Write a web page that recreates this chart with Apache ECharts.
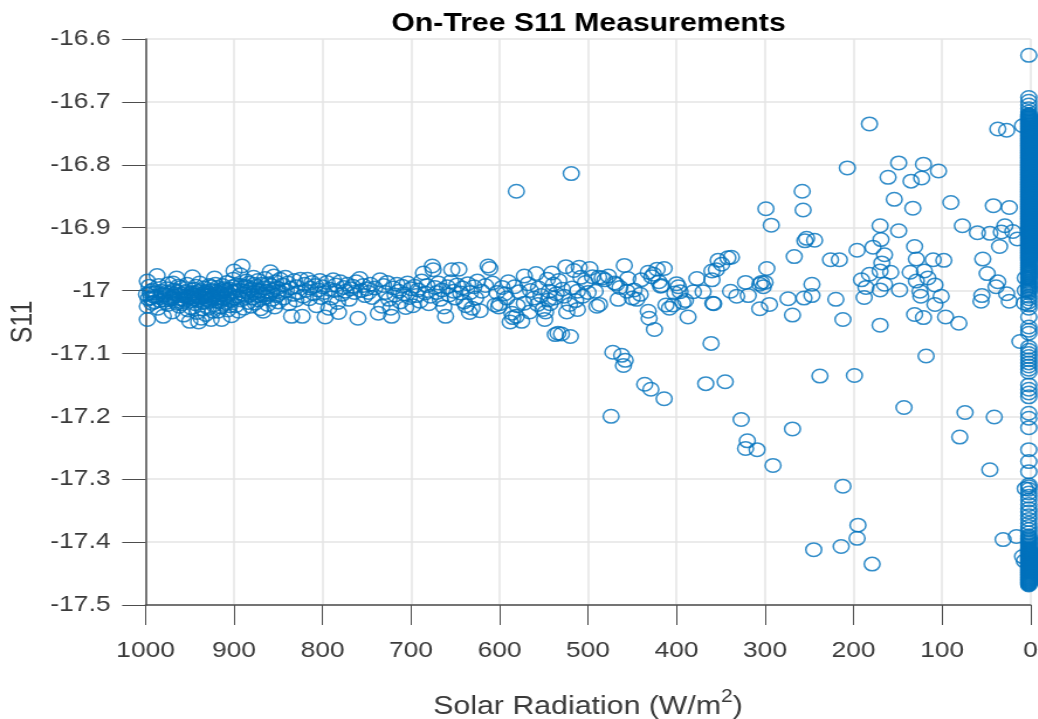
<!DOCTYPE html>
<html>
<head>
<meta charset="utf-8">
<title>On-Tree S11 Measurements</title>
<script src="https://cdn.jsdelivr.net/npm/echarts@6/dist/echarts.min.js"></script>
<style>
  html, body { margin: 0; padding: 0; width: 1038px; height: 719px; background: #fff; overflow: hidden; }
  #frame { position: absolute; left: 0; top: 0; width: 1038px; height: 719px; overflow: hidden; }
  /* the source figure was widened after export, so text and rings are wider than tall */
  #chart { position: absolute; left: 0; top: 0; width: 887px; height: 719px; transform: scaleX(1.17); transform-origin: left top; }
</style>
</head>
<body>
<div id="frame"><div id="chart"></div></div>
<script>
const MAIN_TITLE = 'On-Tree S11 Measurements';
const X_NAME = 'Solar Radiation (W/m{sup|2})';
const Y_NAME = 'S11';

// Dense band, high radiation
const band1000to900 = [
  [998,-17.046],[998,-16.985],[987,-16.976],[998,-17.025],[999,-17.006],[996,-16.993],[994,-17.012],[992,-16.999],
  [990,-17.018],[989,-17.004],[986,-17.028],[985,-16.992],[983,-17.011],[982,-17.001],[980,-17.041],[979,-17.015],
  [978,-17.007],[976,-16.997],[975,-17.022],[973,-17.012],[972,-17.003],[970,-17.034],[969,-16.988],[968,-17.009],
  [966,-17.017],[965,-16.98],[964,-17.002],[962,-17.025],[961,-17.013],[960,-16.995],[958,-17.006],[957,-17.039],
  [955,-17.016],[954,-17.001],[953,-16.99],[951,-17.01],[950,-17.049],[949,-17.027],[948,-17.004],[947,-16.978],
  [946,-17.014],[945,-16.998],[944,-17.021],[943,-17.008],[942,-17.035],[941,-17.002],[940,-17.05],[939,-16.988],
  [938,-17.012],[937,-17.044],[936,-17.005],[935,-17.019],[934,-16.996],[933,-17.009],[932,-17.038],[931,-17.001],
  [930,-17.015],[929,-17.028],[928,-16.992],[927,-17.007],[926,-17.046],[925,-17.012],[924,-17.0],[923,-17.023],
  [922,-16.98],[921,-17.006],[920,-17.017],[919,-16.995],[918,-17.033],[917,-17.01],[916,-17.003],[915,-17.026],
  [914,-17.046],[913,-16.992],[912,-17.013],[911,-17.001],[910,-17.019],[909,-17.008],[908,-16.987],[907,-17.031],
  [906,-17.005],[905,-16.998],[904,-17.016],[903,-17.04],[902,-17.002],[901,-16.982],[900,-16.969],[900,-17.012],
  [994,-17.001],[991,-17.009],[977,-17.019],[974,-16.989],[971,-17.014],[967,-17.005],[963,-16.993],[959,-17.021],
  [956,-17.009],[952,-17.031],[948,-17.011],[944,-17.004],[941,-17.016],[938,-17.0],[935,-17.007],[932,-17.013],
  [929,-17.004],[926,-16.994],[923,-17.01],[920,-17.002],[917,-17.018],[914,-17.006],[911,-16.997],[908,-17.011],
  [905,-17.024],[902,-16.994],[946,-17.007],[943,-16.993],[939,-17.01],[936,-17.029],[933,-17.003],[930,-17.007],
  [927,-17.017],[924,-17.033],[921,-16.99],[918,-17.012],[915,-17.0],[912,-17.022],[909,-16.999],[906,-17.014],
  [997,-17.013],[995,-17.004],[993,-17.02],[988,-17.01],[984,-17.016],[981,-17.006],[977,-17.003],[970,-17.011],
  [968,-16.999],[965,-17.02],[962,-17.008],[958,-17.014],[955,-17.003],[952,-17.012],[949,-17.017],[945,-17.01]
];

const band900to800 = [
  [899,-17.001],[898,-17.024],[897,-16.991],[896,-17.009],[895,-17.033],[894,-16.999],[893,-16.975],[892,-17.015],
  [891,-16.961],[890,-17.005],[889,-17.028],[888,-16.993],[887,-17.011],[886,-16.985],[885,-17.002],[884,-17.019],
  [883,-16.988],[882,-17.007],[881,-17.025],[880,-16.997],[879,-17.012],[878,-16.979],[877,-17.003],[876,-17.02],
  [875,-16.993],[874,-17.008],[873,-16.984],[872,-17.015],[871,-17.0],[870,-17.029],[869,-16.99],[868,-17.006],
  [867,-17.033],[866,-16.996],[865,-16.981],[864,-17.011],[863,-17.001],[862,-17.022],[861,-16.989],[860,-17.006],
  [859,-16.97],[858,-16.992],[857,-17.014],[856,-17.0],[855,-16.977],[854,-17.026],[853,-16.986],[852,-17.008],
  [851,-16.996],[850,-17.018],[848,-16.982],[847,-17.003],[845,-16.991],[844,-17.012],[842,-16.979],[841,-17.0],
  [839,-16.988],[838,-17.021],[836,-16.996],[835,-17.041],[833,-17.006],[832,-16.984],[830,-17.015],[829,-16.994],
  [827,-17.003],[825,-16.982],[823,-17.041],[822,-17.009],[820,-16.99],[819,-17.0],[817,-16.982],[815,-17.013],
  [814,-16.996],[812,-16.987],[810,-17.005],[808,-16.992],[807,-17.024],[805,-16.999],[803,-16.984],[802,-17.011],
  [893,-16.992],[889,-17.001],[884,-16.995],[877,-16.99],[872,-17.001],[866,-17.007],[858,-17.003],[850,-17.001]
];

const band800to700 = [
  [800,-16.994],[798,-17.003],[797,-17.042],[795,-16.987],[793,-17.028],[792,-16.998],[790,-17.012],[788,-16.983],
  [786,-17.0],[785,-16.991],[783,-17.019],[782,-17.035],[780,-16.986],[778,-17.006],[776,-16.995],[774,-17.001],
  [772,-16.99],[770,-17.014],[768,-16.997],[766,-16.993],[764,-17.003],[762,-16.986],[760,-17.044],[758,-16.981],
  [756,-17.0],[754,-16.992],[752,-17.008],[750,-16.997],[748,-17.003],[746,-16.99],[744,-17.011],[741,-16.996],
  [737,-17.036],[735,-16.983],[733,-17.025],[731,-16.992],[729,-17.003],[727,-16.987],[725,-17.014],[723,-17.028],
  [722,-17.041],[720,-16.996],[718,-17.007],[716,-16.99],[714,-17.001],[712,-17.018],[710,-16.993],[708,-17.005],
  [706,-17.027],[704,-16.988],[702,-17.011],[700,-16.997]
];

const band700to600 = [
  [698,-17.024],[696,-16.993],[694,-17.008],[692,-16.999],[690,-17.017],[688,-16.985],[686,-16.972],[684,-17.004],
  [682,-16.992],[680,-17.021],[678,-17.009],[676,-16.961],[675,-16.967],[673,-16.995],[671,-17.003],[669,-16.988],
  [667,-17.014],[665,-16.999],[663,-17.026],[661,-17.041],[659,-16.994],[657,-17.007],[655,-16.986],[654,-16.967],
  [652,-17.001],[650,-17.012],[648,-16.991],[646,-16.966],[644,-17.004],[642,-16.996],[640,-17.018],[638,-17.024],
  [636,-16.989],[634,-17.035],[633,-17.003],[631,-17.028],[629,-16.994],[627,-17.012],[625,-16.985],[622,-17.032],
  [620,-17.001],[616,-16.992],[613,-16.961],[611,-16.965],[608,-16.988],[605,-17.023],[603,-17.003],[601,-17.026]
];

// Thinner band and the scatter below it
const band600to300 = [
  [597,-16.995],[594,-17.005],[590,-16.986],[588,-17.05],[586,-17.036],[585,-17.043],[583,-16.994],[581,-17.041],
  [578,-17.002],[575,-17.049],[572,-16.977],[572,-17.02],[568,-16.989],[565,-17.0],[561,-17.012],[558.7,-16.973],
  [556,-16.996],[553,-17.008],[551,-17.03],[549,-17.046],[548,-17.034],[546,-16.982],[545,-17.015],[543,-17.021],
  [541,-16.972],[539,-16.99],[537,-17.07],[536,-17.005],[534,-17.068],[533,-16.984],[530,-17.069],[529,-16.998],
  [525,-16.962],[524,-17.034],[520,-17.073],[518,-16.996],[516,-16.968],[514,-17.016],[512,-17.001],[512,-17.03],
  [508,-16.979],[506,-17.009],[503,-16.987],[498,-16.965],[495,-16.978],[492,-17.001],[490,-17.025],[487,-17.022],
  [484,-16.98],[481,-16.983],[477,-16.977],[474,-17.2],[472,-17.098],[470,-16.988],[466,-17.014],[464,-16.995],
  [462,-17.103],[460,-17.119],[459,-16.96],[458,-17.111],[456,-17.001],[455,-16.981],[450,-17.012],[445,-17.014],
  [441,-17.006],[436,-17.149],[432,-16.971],[432,-17.033],[431,-17.044],[429,-17.157],[428,-16.978],[425,-17.062],
  [422,-16.966],[420,-16.986],[417,-16.992],[414,-16.965],[414,-17.172],[412,-17.023],[404,-17.023],[400,-16.989],
  [398,-16.994],[396,-17.002],[393,-17.019],[387,-17.042],[381,-17.002],[377,-16.981],[367,-17.148],[361,-17.084],
  [360,-16.969],[360,-16.983],[359,-17.02],[358,-17.021],[353,-16.952],[345,-17.145],[342,-16.948],[339,-17.001],
  [338,-16.947],[332,-17.009],[327,-17.205],[322,-16.987],[320,-17.239],[322,-17.251],[319,-17.008],[309,-17.253],
  [306,-16.99],[306,-17.029],[304,-16.987],[302,-16.994],[300,-16.987],
  [600,-17.021],[592,-17.012],[580,-17.024],[566,-17.034],[557,-17.022],[544,-17.001],[538,-17.012],[527,-17.009],
  [521,-17.022],[510,-16.963],[500,-17.003],[488,-16.979],[468,-16.99],[448,-16.999],[440,-16.983],[426,-16.974],
  [418,-16.993],[408,-17.028],[402,-17.004],[390,-17.016],[370,-17.002],[355,-16.967],[349,-16.958],
  [581,-16.842],[519,-16.814]
];

const sparse300to100 = [
  [299,-16.87],[298,-16.965],[295,-17.022],[293,-16.896],[291,-17.278],[274,-17.013],[269,-17.039],[269,-17.22],
  [267,-16.946],[258,-16.842],[257,-16.872],[256,-17.012],[255,-16.921],[253,-16.917],[247,-16.99],[247,-17.008],
  [245,-17.412],[244,-16.92],[238,-17.136],[226,-16.951],[220,-17.014],[216,-16.951],[214,-17.407],[212,-17.046],
  [212,-17.311],[207,-16.805],[199,-17.135],[196,-16.936],[196,-17.394],[195,-17.373],[191,-16.983],[188,-17.011],
  [186,-16.995],[182,-16.735],[182,-16.974],[179,-17.435],[178,-16.931],[170,-16.897],[170,-16.969],[170,-16.999],
  [170,-17.055],[169,-16.919],[168,-16.956],[165,-16.943],[165,-16.99],[161,-16.82],[158,-16.971],[154,-16.855],
  [149,-16.797],[149,-16.905],[148,-16.999],[143,-17.186],[136,-16.971],[135,-16.826],[133,-16.869],[131,-16.93],
  [131,-17.038],[129,-16.95],[129,-16.985],[125,-17.001],[124,-17.009],[123,-16.821],[121,-16.799],[121,-17.043],
  [120,-16.969],[118,-17.104],[116,-16.98],[110,-16.951],[108,-16.991],[108,-17.022],[104,-16.81],[101,-17.009]
];

const sparse100to0 = [
  [98,-16.952],[96,-17.042],[90,-16.86],[81,-17.052],[80,-17.233],[77,-16.897],[74,-17.194],[60,-16.908],
  [56,-17.017],[55,-17.008],[54,-16.95],[49,-16.973],[46,-16.909],[46,-17.285],[42,-16.865],[41,-17.201],
  [39,-16.994],[37,-16.743],[37,-16.986],[35,-16.93],[33,-16.907],[31,-17.396],[29,-16.897],[27,-16.745],
  [27,-17.005],[24,-16.868],[24,-17.017],[20,-16.906],[16,-17.391],[15,-16.918],[12,-17.081],[9,-16.738],[9,-17.423],
  [7,-17.02],[6,-16.98],[6,-17.0],[6,-17.315],[7,-17.43]
];

// Column of readings taken at night, radiation near zero
const nightRadiation = 2;
const nightS11 = [
  -16.626,-16.693,-16.699,-16.705,-16.711,-16.716,
  -16.72,-16.721,-16.722,-16.723,-16.724,-16.725,-16.726,-16.727,-16.728,-16.729,-16.73,-16.731,-16.732,-16.733,
  -16.734,-16.735,-16.736,-16.737,-16.738,-16.739,-16.74,-16.741,-16.742,-16.743,-16.744,-16.745,-16.746,-16.747,
  -16.748,-16.749,-16.75,-16.751,-16.752,-16.753,-16.754,-16.755,-16.756,-16.757,-16.758,-16.759,-16.76,-16.761,
  -16.762,-16.763,-16.764,-16.765,-16.766,-16.767,-16.768,-16.769,-16.77,-16.771,-16.772,-16.773,-16.774,-16.775,
  -16.776,-16.777,-16.778,-16.779,-16.78,-16.781,-16.782,-16.783,-16.784,-16.785,-16.786,-16.787,-16.788,-16.789,
  -16.79,-16.791,-16.792,-16.793,-16.794,-16.795,-16.796,-16.797,-16.798,-16.799,-16.8,-16.801,-16.802,-16.803,
  -16.804,-16.805,-16.806,-16.807,-16.808,-16.809,-16.81,-16.811,-16.812,-16.813,-16.814,-16.815,-16.816,-16.817,
  -16.818,-16.819,-16.82,-16.821,-16.822,-16.823,-16.824,-16.825,-16.826,-16.827,-16.828,-16.829,-16.83,-16.831,
  -16.832,-16.833,-16.834,-16.835,-16.836,-16.837,-16.838,-16.839,-16.84,-16.841,-16.842,-16.843,-16.844,-16.845,
  -16.846,-16.847,-16.848,-16.849,-16.85,-16.851,-16.852,-16.853,-16.854,-16.855,-16.856,-16.857,-16.858,-16.859,
  -16.86,-16.861,-16.862,-16.863,-16.864,-16.865,-16.866,-16.867,-16.868,-16.869,-16.87,-16.871,-16.872,-16.873,
  -16.874,-16.875,-16.876,-16.877,-16.878,-16.879,-16.88,-16.881,-16.882,-16.883,-16.884,-16.885,-16.886,-16.887,
  -16.888,-16.889,-16.89,-16.891,-16.892,-16.893,-16.894,-16.895,-16.896,-16.897,-16.898,-16.899,-16.9,-16.901,
  -16.902,-16.903,-16.904,-16.905,-16.906,-16.907,-16.908,-16.909,-16.91,-16.911,-16.912,-16.913,-16.914,-16.915,
  -16.916,-16.917,-16.918,-16.919,-16.92,-16.921,-16.922,-16.923,-16.924,-16.925,-16.926,-16.927,-16.928,-16.929,
  -16.93,-16.931,-16.932,-16.933,-16.934,-16.935,-16.936,-16.937,-16.938,-16.939,-16.94,-16.941,-16.942,-16.943,
  -16.944,-16.945,-16.946,-16.947,-16.948,-16.949,-16.95,-16.951,-16.952,-16.953,-16.955,-16.957,-16.958,-16.96,
  -16.961,-16.963,-16.964,-16.966,-16.967,-16.969,-16.97,-16.972,-16.973,-16.975,-16.976,-16.978,-16.979,-16.981,
  -16.982,-16.985,-16.987,-16.989,-16.991,-16.993,-16.995,-16.997,-16.999,-17.001,-17.004,-17.009,-17.013,-17.018,
  -17.023,-17.028,-17.042,-17.058,-17.063,-17.068,-17.09,-17.095,-17.1,-17.105,-17.11,-17.115,-17.12,-17.125,
  -17.13,-17.15,-17.157,-17.163,-17.169,-17.195,-17.203,-17.218,-17.253,-17.272,-17.288,-17.309,-17.312,-17.316,
  -17.322,-17.327,-17.333,-17.34,-17.347,-17.352,-17.358,-17.364,-17.37,-17.375,-17.38,-17.385,-17.39,-17.392,
  -17.394,-17.396,-17.398,-17.4,-17.402,-17.404,-17.406,-17.408,-17.41,-17.411,-17.412,-17.413,-17.414,-17.415,
  -17.416,-17.417,-17.418,-17.419,-17.42,-17.421,-17.422,-17.423,-17.424,-17.425,-17.426,-17.427,-17.428,-17.429,
  -17.43,-17.431,-17.432,-17.433,-17.434,-17.435,-17.436,-17.437,-17.438,-17.439,-17.44,-17.441,-17.442,-17.443,
  -17.444,-17.445,-17.446,-17.447,-17.448,-17.449,-17.45,-17.451,-17.452,-17.453,-17.454,-17.455,-17.456,-17.457,
  -17.458,-17.459,-17.46,-17.461,-17.462,-17.463,-17.464,-17.465,-17.466,-17.467,-17.468
];

const BLUE = '#0072BD';
const FONT = '"Liberation Sans", Arial, sans-serif';
const TEXT_DARK = '#3a3a3a';
const AXIS_LINE = '#4d4d4d';
const GRID_LINE = '#e4e4e4';

const points = [
  ...band1000to900, ...band900to800, ...band800to700, ...band700to600,
  ...band600to300, ...sparse300to100, ...sparse100to0,
  ...nightS11.map(s => [nightRadiation, s])
];

const chart = echarts.init(document.getElementById('chart'), null, { renderer: 'canvas' });

chart.setOption({
  animation: false,
  backgroundColor: '#fff',
  title: {
    text: MAIN_TITLE,
    left: 498,
    top: 6,
    textAlign: 'center',
    textStyle: { fontFamily: FONT, fontSize: 25.8, fontWeight: 'bold', color: '#000' }
  },
  // v6 shrinks the grid to fit names unless told not to
  grid: { left: 124.4, top: 39, width: 756.4, height: 566, outerBoundsMode: 'none' },
  xAxis: {
    type: 'value',
    inverse: true,
    min: 0,
    max: 1000,
    interval: 100,
    name: X_NAME,
    nameLocation: 'middle',
    nameGap: 83,
    nameTextStyle: {
      fontFamily: FONT,
      fontSize: 25.9,
      color: TEXT_DARK,
      rich: {
        sup: { fontFamily: FONT, fontSize: 18, color: TEXT_DARK, verticalAlign: 'top', padding: [0, 0, 20, 0] }
      }
    },
    axisLine: { onZero: false, lineStyle: { color: AXIS_LINE, width: 1.5 } },
    axisTick: { length: 20, lineStyle: { color: AXIS_LINE, width: 1 } },
    axisLabel: { margin: 34, fontFamily: FONT, fontSize: 22.5, color: TEXT_DARK, formatter: v => String(v) },
    splitLine: { show: true, lineStyle: { color: GRID_LINE, width: 1.5 } }
  },
  yAxis: {
    type: 'value',
    min: -17.5,
    max: -16.6,
    interval: 0.1,
    name: Y_NAME,
    nameLocation: 'middle',
    nameGap: 89,
    nameTextStyle: { fontFamily: FONT, fontSize: 25, color: TEXT_DARK },
    axisLine: { onZero: false, lineStyle: { color: AXIS_LINE, width: 1.5 } },
    axisTick: { length: 20, lineStyle: { color: AXIS_LINE, width: 1 } },
    axisLabel: { margin: 30, fontFamily: FONT, fontSize: 22.5, color: TEXT_DARK },
    splitLine: { show: true, lineStyle: { color: GRID_LINE, width: 1.5 } }
  },
  series: [
    {
      type: 'scatter',
      symbol: 'circle',
      symbolSize: 13.5,
      clip: false,
      itemStyle: { color: 'rgba(0,0,0,0)', borderColor: BLUE, borderWidth: 1.5 },
      data: points
    }
  ]
});
</script>
</body>
</html>
